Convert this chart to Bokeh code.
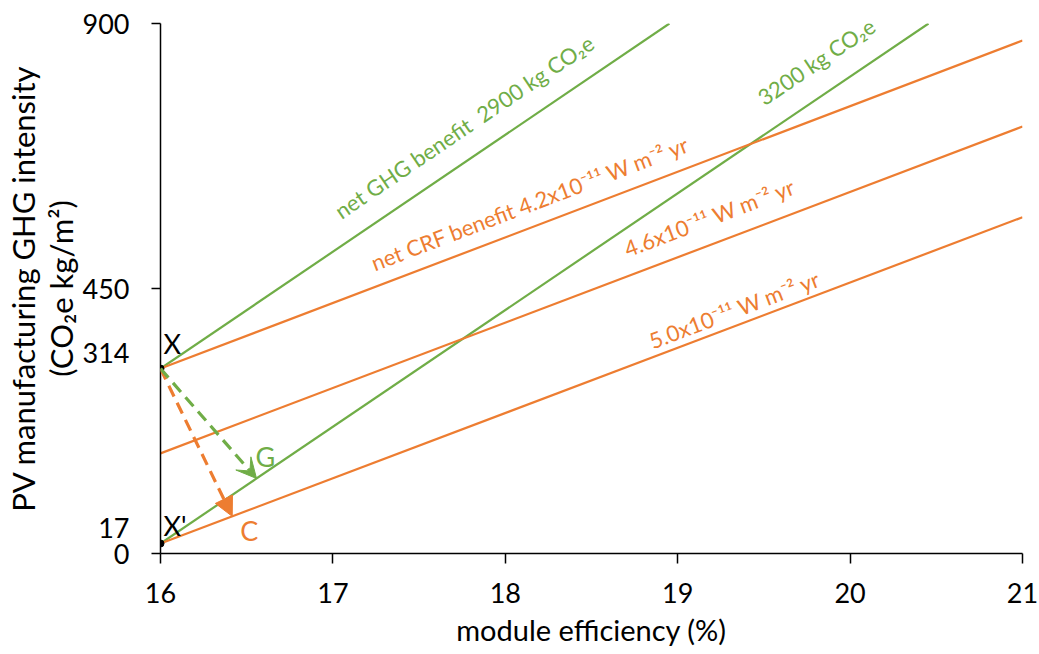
import math
from bokeh.plotting import figure
from bokeh.models import FixedTicker, Arrow, VeeHead, NormalHead, Range1d
from bokeh.core.properties import value
from bokeh.embed import file_html
from bokeh.resources import INLINE

# ---------------- data ----------------
x_ticks = [16, 17, 18, 19, 20, 21]
y_ticks = [0, 17, 314, 450, 900]
y_tick_marks = [0, 450, 900]

ghg_2900_x = [16, 18.952]
ghg_2900_y = [314, 900]
ghg_3200_x = [16, 20.455]
ghg_3200_y = [17, 900]
crf_42_x = [16, 21]
crf_42_y = [314, 871]
crf_46_x = [16, 21]
crf_46_y = [170, 725]
crf_50_x = [16, 21]
crf_50_y = [17, 571]

point_x = [16, 16]
point_y = [314, 17]
point_names = ["X", "X'"]

arrow_g_end_x = 16.557   # lands on 3200 kg line
arrow_c_end_x = 16.416   # lands on 5.0e-11 line

GREEN = "#70AD47"
ORANGE = "#ED7D31"
FONT = "Lato"

W, H = 1039, 654
BL, BR, BT, BB = 160, 17, 23, 101
FW, FH = W - BL - BR, H - BT - BB
XMIN, XMAX, YMIN, YMAX = 16, 21, 0, 900
PPX = FW / (XMAX - XMIN)
PPY = FH / (YMAX - YMIN)
SHIFT = 10  # renderer baseline correction (px, in text's local "up")

p = figure(width=W, height=H, output_backend="svg", toolbar_location=None,
           x_range=Range1d(XMIN, XMAX), y_range=Range1d(YMIN, YMAX),
           min_border_left=BL, min_border_right=BR, min_border_top=BT, min_border_bottom=BB)
p.outline_line_color = None
p.xgrid.grid_line_color = None
p.ygrid.grid_line_color = None
p.background_fill_color = "white"
p.border_fill_color = "white"


def line_at(xs, ys, x):
    return ys[0] + (ys[1] - ys[0]) * (x - xs[0]) / (xs[1] - xs[0])


def angle_of(xs, ys):
    s = (ys[1] - ys[0]) / (xs[1] - xs[0])
    return math.atan(s * PPY / PPX)


def put_text(x, y, dx_px, dy_px, text, color, size, angle=0.0):
    ax = x + dx_px / PPX - SHIFT * math.sin(angle) / PPX
    ay = y + dy_px / PPY + SHIFT * math.cos(angle) / PPY
    p.text(x=[ax], y=[ay], text=[text], angle=angle, text_color=color,
           text_font=value(FONT), text_font_size=size, text_baseline="alphabetic",
           text_align="left")


# lines
for xs, ys, c in [(ghg_2900_x, ghg_2900_y, GREEN), (ghg_3200_x, ghg_3200_y, GREEN),
                  (crf_42_x, crf_42_y, ORANGE), (crf_46_x, crf_46_y, ORANGE),
                  (crf_50_x, crf_50_y, ORANGE)]:
    p.line(xs, ys, line_color=c, line_width=2.2)

# arrows
gy = line_at(ghg_3200_x, ghg_3200_y, arrow_g_end_x)
cy = line_at(crf_50_x, crf_50_y, arrow_c_end_x)
p.add_layout(Arrow(x_start=point_x[0], y_start=point_y[0], x_end=arrow_c_end_x, y_end=cy,
                   line_color=ORANGE, line_width=3.2, line_dash="12 7",
                   end=NormalHead(size=19, fill_color=ORANGE, line_color=ORANGE, line_width=1)))
p.add_layout(Arrow(x_start=point_x[0], y_start=point_y[0], x_end=arrow_g_end_x, y_end=gy,
                   line_color=GREEN, line_width=3.2, line_dash="12 7",
                   end=VeeHead(size=20, fill_color=GREEN, line_color=GREEN, line_width=1)))

# points
p.scatter(point_x, point_y, size=7, color="black")

# line labels: (text, xs, ys, colour, x position, vertical pixel offset)
labels = [
    ("net GHG benefit \u00a02900 kg CO\u2082e", ghg_2900_x, ghg_2900_y, GREEN, 17.056, 24),
    ("3200 kg CO\u2082e", ghg_3200_x, ghg_3200_y, GREEN, 19.51, 26),
    ("net CRF benefit 4.2x10\u207b\u00b9\u00b9 W m\u207b\u00b2 yr", crf_42_x, crf_42_y, ORANGE, 17.247, 14),
    ("4.6x10\u207b\u00b9\u00b9 W m\u207b\u00b2 yr", crf_46_x, crf_46_y, ORANGE, 18.715, 17),
    ("5.0x10\u207b\u00b9\u00b9 W m\u207b\u00b2 yr", crf_50_x, crf_50_y, ORANGE, 18.860, 6),
]
for t, xs, ys, c, lx, off in labels:
    put_text(lx, line_at(xs, ys, lx), 0, off, t, c, "22px", angle_of(xs, ys))

# point labels X, X'
put_text(point_x[0], point_y[0], 3, 15, point_names[0], "black", "27px")
put_text(point_x[1], point_y[1], 3, 8, point_names[1], "black", "27px")
# G and C
put_text(arrow_g_end_x, gy, -1, 12, "G", GREEN, "27px")
put_text(arrow_c_end_x, cy, 8, -24, "C", ORANGE, "27px")

# axes
p.xaxis.ticker = FixedTicker(ticks=x_ticks)
p.yaxis.ticker = FixedTicker(ticks=y_ticks, minor_ticks=y_tick_marks)
p.yaxis.major_label_overrides = {17: "17\n", 314: "314\n"}
for ax in (p.xaxis, p.yaxis):
    ax.axis_line_color = "black"
    ax.axis_line_width = 1.5
    ax.major_tick_line_color = "black"
    ax.major_tick_line_width = 1.5
    ax.major_tick_out = 10
    ax.major_tick_in = 0
    ax.minor_tick_line_color = None
    ax.major_label_text_font = FONT
    ax.major_label_text_font_size = "27px"
    ax.major_label_text_color = "black"
    ax.axis_label_text_font = FONT
    ax.axis_label_text_font_style = "normal"
    ax.axis_label_text_color = "black"
# y axis: tick marks only at 0, 450, 900 (drawn as minor ticks)
p.yaxis.major_tick_out = 0
p.yaxis.minor_tick_line_color = "black"
p.yaxis.minor_tick_line_width = 1.5
p.yaxis.minor_tick_out = 9
p.yaxis.minor_tick_in = 0
p.yaxis.major_label_text_align = "right"
p.yaxis.major_label_text_line_height = 0.95
p.xaxis.axis_label_text_font_size = "29px"
p.yaxis.axis_label_text_font_size = "31px"
p.yaxis.axis_label_text_line_height = 1.0
p.xaxis.major_label_standoff = 19
p.yaxis.major_label_standoff = 22
p.xaxis.axis_label = "module efficiency (%)"
p.xaxis.axis_label_standoff = 6
p.yaxis.axis_label = "PV manufacturing GHG intensity\n(CO\u2082e kg/m\u00b2)"
p.yaxis.axis_label_standoff = 0

open("out.html", "w").write(file_html(p, INLINE))
